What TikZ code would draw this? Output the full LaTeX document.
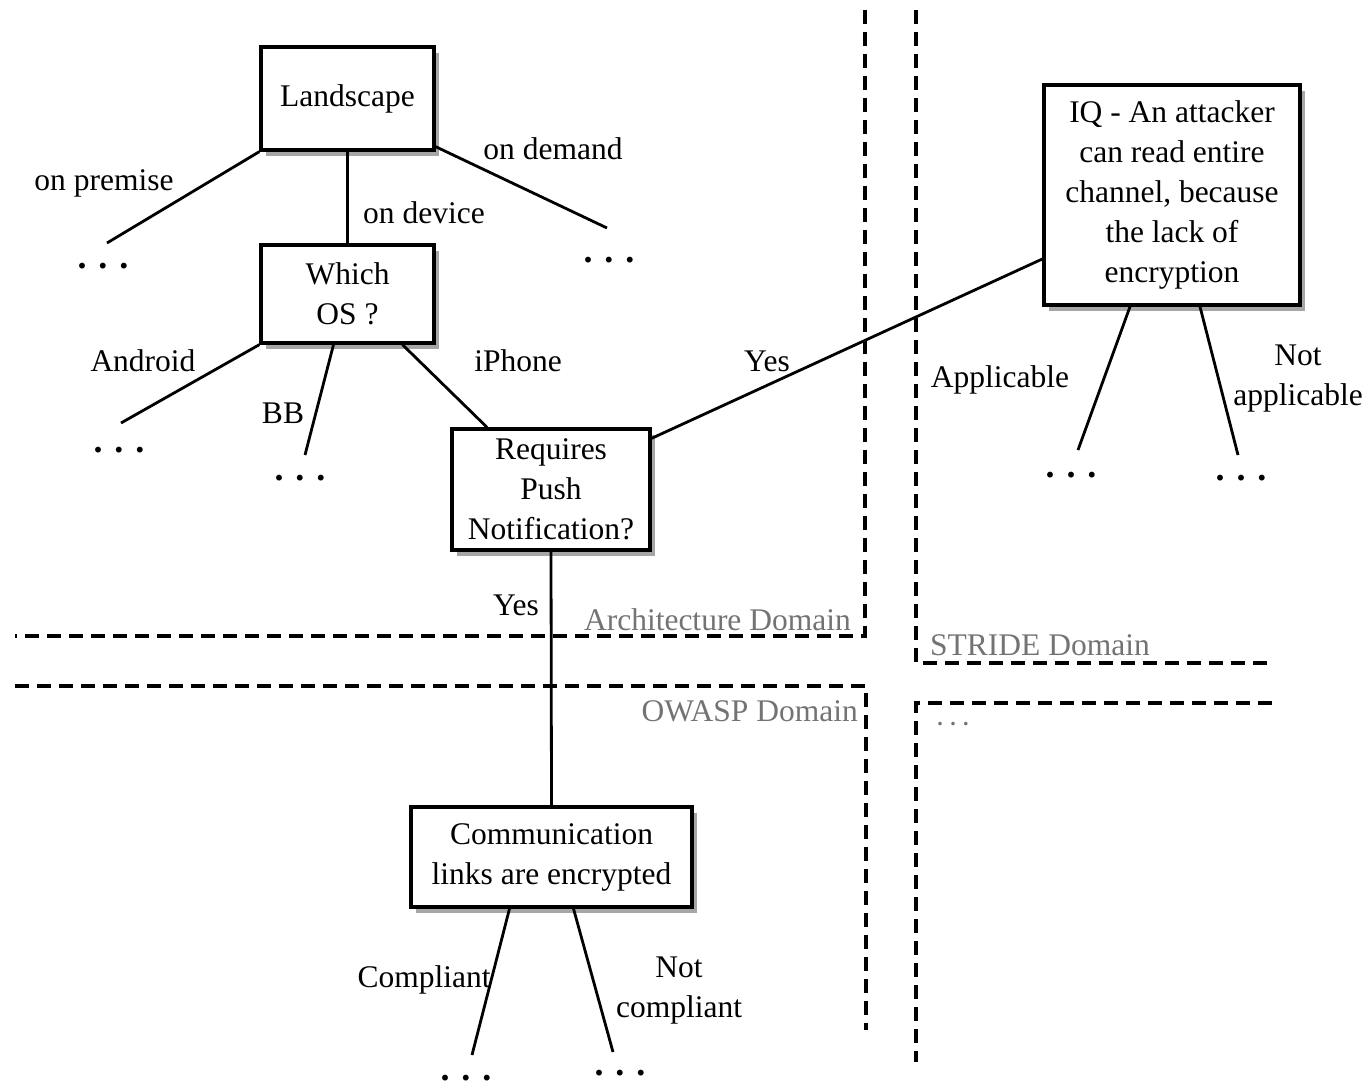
\documentclass[tikz,border=0pt]{standalone}
\usepackage{fontspec}
\setmainfont{Liberation Serif}
\usetikzlibrary{shadows}
\begin{document}
\begin{tikzpicture}[x=1pt,y=-1pt,
  box/.style={draw=black, line width=3.4pt, fill=white, inner sep=0pt, align=center,
    font=\fontsize{31.5}{40}\selectfont,
    drop shadow={opacity=0.7, shadow xshift=5pt, shadow yshift=-6pt}},
  lbl/.style={inner sep=0pt, font=\fontsize{31.5}{40}\selectfont, align=center},
  dom/.style={inner sep=0pt, font=\fontsize{31.5}{40}\selectfont, text=black!55},
  dots/.style={inner sep=0pt, font=\fontsize{36}{40}\selectfont\bfseries},
  link/.style={line width=2.8pt},
  border/.style={line width=3.2pt, dash pattern=on 14pt off 8pt}]
\useasboundingbox (0,0) rectangle (1368,1086);

% decision boxes
\node[box, minimum width=173pt, minimum height=103pt] (land) at (347.5,98.5) {Landscape};
\node[box, minimum width=173pt, minimum height=98pt] (os) at (347.5,294) {Which\\OS ?};
\node[box, minimum width=198pt, minimum height=121pt] (push) at (551,489.5) {Requires\\Push\\Notification?};
\node[box, minimum width=256pt, minimum height=220pt] (iq) at (1172,195) {IQ - An attacker\\can read entire\\channel, because\\the lack of\\encryption};
\node[box, minimum width=281pt, minimum height=100pt] (comm) at (551.5,857) {Communication\\links are encrypted};

% open branch ends
\coordinate (premEnd) at (107,243);
\coordinate (demEnd) at (607,228);
\coordinate (andEnd) at (121,423);
\coordinate (bbEnd) at (305,455);
\coordinate (compEnd) at (472,1055);
\coordinate (ncompEnd) at (613,1052);
\coordinate (appEnd) at (1078,450);
\coordinate (napEnd) at (1238,455);

% connectors
\draw[link] (land.south west) -- (premEnd);
\draw[link] (land.south) -- (os.north);
\draw[link] ([yshift=5pt]land.south east) -- (demEnd);
\draw[link] (os.south west) -- (andEnd);
\draw[link] ([xshift=-14pt]os.south) -- (bbEnd);
\draw[link] ([xshift=55pt]os.south) -- ([xshift=-64pt]push.north);
\draw[link] ([yshift=-11pt]push.north east) -- ([yshift=-64pt]iq.west);
\draw[link] (push.south) -- (comm.north);
\draw[link] ([xshift=-42pt]comm.south) -- (compEnd);
\draw[link] ([xshift=22pt]comm.south) -- (ncompEnd);
\draw[link] ([xshift=-42pt]iq.south) -- (appEnd);
\draw[link] ([xshift=28pt]iq.south) -- (napEnd);

% branch labels
\node[lbl] (lPrem) at (104,183) {on premise};
\node[lbl] (lDev) at (424,213) {on device};
\node[lbl] (lDem) at (553,149) {on demand};
\node[lbl] (lAnd) at (143,361) {Android};
\node[lbl] (lBB) at (283,413) {BB};
\node[lbl] (lIph) at (518,361) {iPhone};
\node[lbl] (lYes1) at (767,361) {Yes};
\node[lbl] (lYes2) at (516,605) {Yes};
\node[lbl] (lComp) at (424,980) {Compliant};
\node[lbl] (lNcomp) at (679,991) {Not\\compliant};
\node[lbl] (lApp) at (1000,380) {Applicable};
\node[lbl] (lNap) at (1298,379) {Not\\applicable};

% continuation dots
\node[dots] (d1) at (103,266) {. . .};
\node[dots] (d2) at (609,260) {. . .};
\node[dots] (d3) at (119,450) {. . .};
\node[dots] (d4) at (300,478) {. . .};
\node[dots] (d5) at (466,1078) {. . .};
\node[dots] (d6) at (620,1073) {. . .};
\node[dots] (d7) at (1071,475) {. . .};
\node[dots] (d8) at (1241,478) {. . .};

% domain borders
\coordinate (aTop) at (865,10);
\coordinate (aCorner) at (865,636);
\coordinate (aLeft) at (15,636);
\draw[border] (aTop) -- (aCorner) -- (aLeft);
\coordinate (oLeft) at (15,686);
\coordinate (oCorner) at (866,686);
\coordinate (oBottom) at (866,1030);
\draw[border] (oLeft) -- (oCorner) -- (oBottom);
\coordinate (sTop) at (916,10);
\coordinate (sCorner) at (916,663);
\coordinate (sRight) at (1272,663);
\draw[border] (sTop) -- (sCorner) -- (sRight);
\coordinate (xRight) at (1272,703);
\coordinate (xCorner) at (916,703);
\coordinate (xBottom) at (916,1062);
\draw[border] (xRight) -- (xCorner) -- (xBottom);

\node[dom, anchor=east] (nArch) at (851,620) {Architecture Domain};
\node[dom, anchor=east] (nOwasp) at (858,711) {OWASP Domain};
\node[dom, anchor=west] (nStride) at (930,645) {STRIDE Domain};
\node[dom, font=\fontsize{22}{24}\selectfont\bfseries] (nMore) at (953,724) {. . .};
\end{tikzpicture}
\end{document}
